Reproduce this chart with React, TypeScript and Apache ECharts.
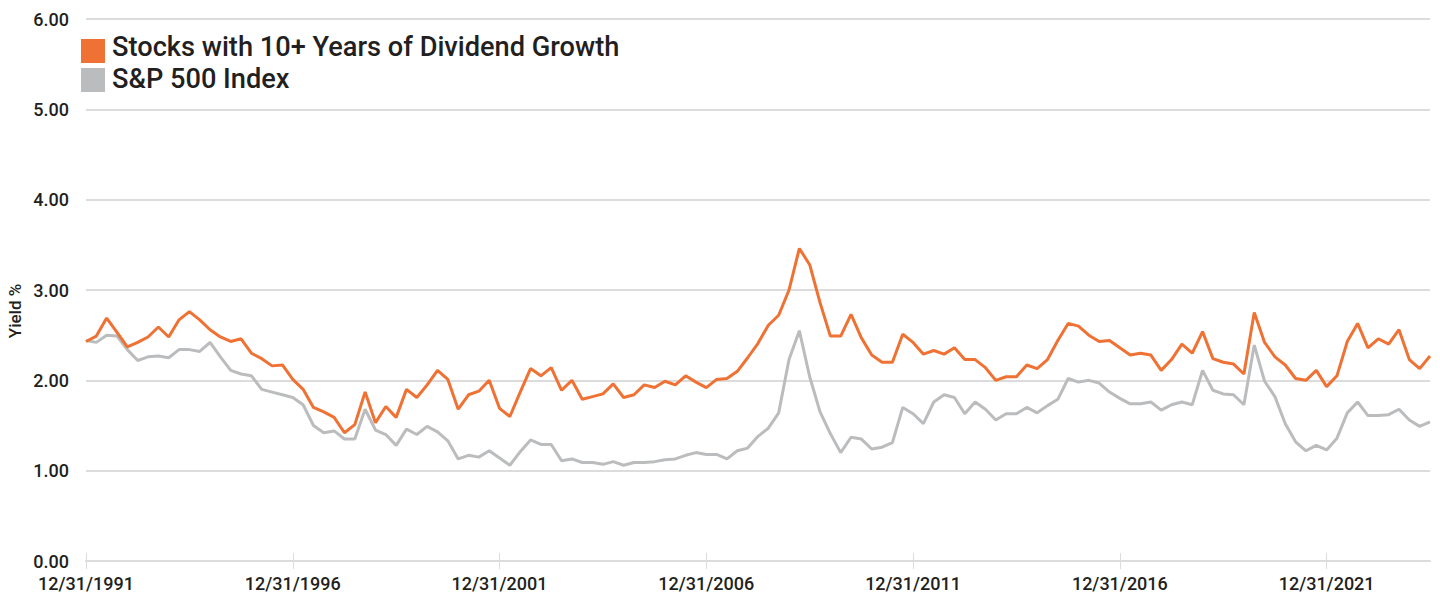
import React, { useEffect, useRef } from "react";
import * as echarts from "echarts";

// Quarter-end observation dates, 12/31/1991 through 6/30/2024
const START_YEAR = 1991;
const QUARTER_ENDS = ["03/31", "06/30", "09/30", "12/31"];
const dates: string[] = [];
for (let y = START_YEAR; dates.length < 131; y++) {
  for (let q = 0; q < 4 && dates.length < 131; q++) {
    if (y === START_YEAR && q < 3) continue;
    const [m, d] = QUARTER_ENDS[q].split("/");
    dates.push(`${Number(m)}/${d}/${y}`);
  }
}

const dividendGrowthYield = [
  2.43, 2.49, 2.69, 2.53, 2.37, 2.42, 2.48, 2.59, 2.48, 2.67,
  2.76, 2.67, 2.56, 2.48, 2.43, 2.46, 2.30, 2.24, 2.16, 2.17,
  2.01, 1.90, 1.70, 1.65, 1.59, 1.42, 1.51, 1.87, 1.53, 1.71,
  1.59, 1.90, 1.81, 1.95, 2.11, 2.01, 1.68, 1.84, 1.88, 2.00,
  1.69, 1.60, 1.87, 2.13, 2.05, 2.14, 1.89, 2.00, 1.79, 1.82,
  1.85, 1.96, 1.81, 1.84, 1.95, 1.92, 1.99, 1.95, 2.05, 1.98,
  1.92, 2.01, 2.02, 2.10, 2.25, 2.41, 2.61, 2.72, 3.00, 3.46,
  3.28, 2.86, 2.49, 2.49, 2.73, 2.47, 2.28, 2.20, 2.20, 2.51,
  2.42, 2.29, 2.33, 2.29, 2.36, 2.23, 2.23, 2.14, 2.00, 2.04,
  2.04, 2.17, 2.13, 2.23, 2.44, 2.63, 2.60, 2.50, 2.43, 2.44,
  2.36, 2.28, 2.30, 2.28, 2.11, 2.23, 2.40, 2.30, 2.54, 2.24,
  2.20, 2.18, 2.07, 2.75, 2.42, 2.26, 2.17, 2.02, 2.00, 2.11,
  1.93, 2.05, 2.43, 2.63, 2.36, 2.46, 2.40, 2.56, 2.23, 2.13,
  2.27,
];

const sp500Yield = [
  2.44, 2.42, 2.50, 2.49, 2.34, 2.22, 2.26, 2.27, 2.25, 2.34,
  2.34, 2.32, 2.42, 2.26, 2.11, 2.07, 2.05, 1.90, 1.87, 1.84,
  1.81, 1.73, 1.50, 1.42, 1.44, 1.35, 1.35, 1.68, 1.45, 1.40,
  1.28, 1.46, 1.40, 1.49, 1.43, 1.33, 1.13, 1.17, 1.15, 1.22,
  1.14, 1.06, 1.21, 1.34, 1.29, 1.29, 1.11, 1.13, 1.09, 1.09,
  1.07, 1.10, 1.06, 1.09, 1.09, 1.10, 1.12, 1.13, 1.17, 1.20,
  1.18, 1.18, 1.13, 1.22, 1.25, 1.38, 1.47, 1.64, 2.23, 2.55,
  2.04, 1.65, 1.41, 1.20, 1.37, 1.35, 1.24, 1.26, 1.31, 1.70,
  1.63, 1.52, 1.76, 1.84, 1.81, 1.63, 1.76, 1.68, 1.56, 1.63,
  1.63, 1.70, 1.64, 1.72, 1.79, 2.02, 1.98, 2.00, 1.97, 1.87,
  1.80, 1.74, 1.74, 1.76, 1.67, 1.73, 1.76, 1.73, 2.11, 1.89,
  1.85, 1.84, 1.73, 2.39, 1.99, 1.82, 1.52, 1.32, 1.22, 1.28,
  1.23, 1.36, 1.64, 1.76, 1.61, 1.61, 1.62, 1.68, 1.56, 1.49,
  1.54,
];

const SERIES_NAMES = ["Stocks with 10+ Years of Dividend Growth", "S&P 500 Index"];
const ORANGE = "#ef7133";
const GRAY = "#bbbcbe";
const SERIES_COLORS = [ORANGE, GRAY];
const TEXT = "#231f20";
const RULE = "#dcdcdc";
const FONT = "Roboto, 'Liberation Sans', Arial, sans-serif";

const everyFiveYears = (index: number) => index % 20 === 0;

// Key in the top-left corner: a swatch and a label for each series
const legendKey = SERIES_NAMES.flatMap((name, i) => [
  {
    type: "rect",
    shape: { x: 81, y: 39 + i * 29, width: 24, height: 24 },
    style: { fill: SERIES_COLORS[i] },
  },
  {
    type: "text",
    x: 112,
    y: 47 + i * 32,
    style: {
      text: name,
      fontSize: 27.2,
      fontWeight: 500,
      fontFamily: FONT,
      fill: TEXT,
      textAlign: "left",
      textVerticalAlign: "middle",
    },
  },
]);

export default function App() {
  const ref = useRef<HTMLDivElement>(null);

  useEffect(() => {
    if (!ref.current) return;
    const chart = echarts.init(ref.current, null, { renderer: "svg" });
    chart.setOption({
      animation: false,
      backgroundColor: "#ffffff",
      textStyle: { fontFamily: FONT },
      grid: { left: 86, right: 10, top: 19, bottom: 33 },
      xAxis: [
        {
          type: "category",
          data: dates,
          boundaryGap: false,
          axisLine: { show: true, lineStyle: { color: RULE, width: 2 } },
          axisTick: {
            show: true,
            interval: everyFiveYears,
            length: 8,
            lineStyle: { color: RULE, width: 1 },
          },
          axisLabel: {
            interval: everyFiveYears,
            margin: 13,
            fontSize: 18,
            fontWeight: 500,
            color: TEXT,
            fontFamily: FONT,
          },
        },
        {
          type: "category",
          data: dates,
          boundaryGap: false,
          position: "bottom",
          axisLine: { show: false },
          axisTick: {
            show: true,
            inside: true,
            interval: everyFiveYears,
            length: 8,
            lineStyle: { color: RULE, width: 1 },
          },
          axisLabel: { show: false },
        },
      ],
      yAxis: {
        type: "value",
        min: 0,
        max: 6,
        interval: 1,
        axisLine: { show: false },
        axisTick: { show: false },
        splitLine: { lineStyle: { color: RULE, width: 2 } },
        axisLabel: {
          formatter: (v: number) => v.toFixed(2),
          margin: 17,
          fontSize: 18,
          fontWeight: 500,
          color: TEXT,
          fontFamily: FONT,
        },
      },
      graphic: [
        {
          type: "text",
          x: 15,
          y: 311,
          rotation: Math.PI / 2,
          style: {
            text: "Yield %",
            fontSize: 17,
            fontWeight: 500,
            fontFamily: FONT,
            fill: TEXT,
            textAlign: "center",
            textVerticalAlign: "middle",
          },
        },
        ...legendKey,
      ],
      series: [
        {
          name: SERIES_NAMES[0],
          type: "line",
          data: dividendGrowthYield,
          z: 3,
          symbol: "none",
          lineStyle: { color: ORANGE, width: 3 },
          itemStyle: { color: ORANGE },
        },
        {
          name: SERIES_NAMES[1],
          type: "line",
          data: sp500Yield,
          z: 2,
          symbol: "none",
          lineStyle: { color: GRAY, width: 3 },
          itemStyle: { color: GRAY },
        },
      ],
    });
    return () => chart.dispose();
  }, []);

  return (
    <div
      ref={ref}
      style={{ position: "absolute", left: 0, top: 0, width: 1440, height: 594 }}
    />
  );
}
